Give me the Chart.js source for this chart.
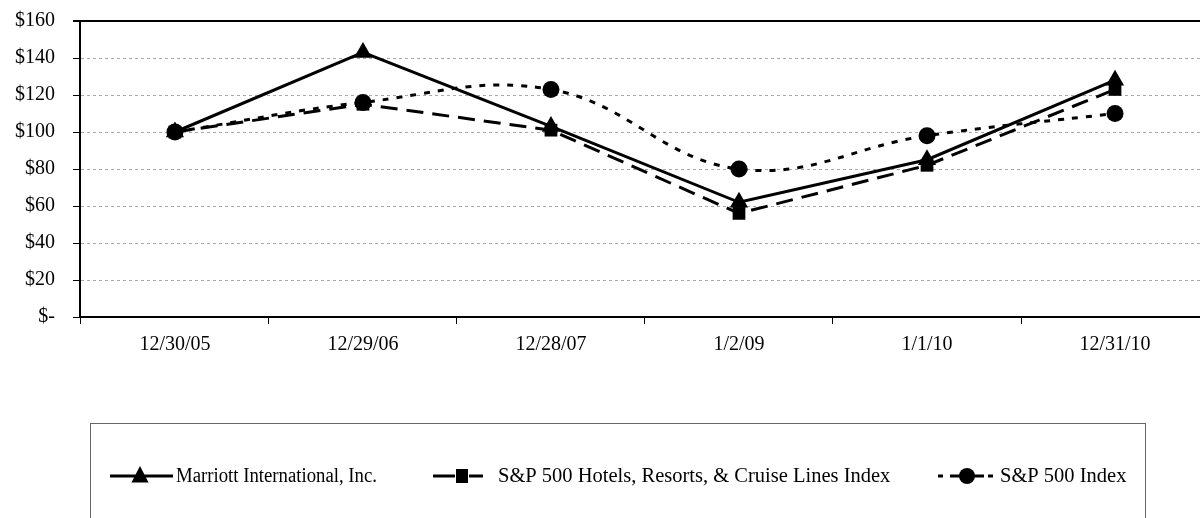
<!DOCTYPE html>
<html><head><meta charset="utf-8">
<script src="https://cdn.jsdelivr.net/npm/chart.js@4/dist/chart.umd.min.js"></script>
<style>html,body{margin:0;padding:0;background:#fff;overflow:hidden}#wrap{width:1200px;height:518px;position:relative}</style>
</head><body><div id="wrap"><canvas id="c" width="1200" height="518"></canvas></div>
<script>
const categories = ['12/30/05','12/29/06','12/28/07','1/2/09','1/1/10','12/31/10'];
const marriott = [100,143,103,62,85,128];
const hotels = [100,115,101,56,82,123];
const sp500 = [100,116,123,80,98,110];
const seriesNames = ['Marriott International, Inc.','S&P 500 Hotels, Resorts, & Cruise Lines Index','S&P 500 Index'];
const FONT = '"Liberation Serif", "Times New Roman", serif';

const toPts = arr => arr.map((v,i)=>({x:i,y:v}));

const legendPlugin = {
  id: 'boxLegend',
  afterDraw(chart){
    const ctx = chart.ctx;
    ctx.save();
    ctx.strokeStyle = '#666'; ctx.lineWidth = 1; ctx.setLineDash([]);
    ctx.strokeRect(90.5, 423.5, 1055, 200);
    const y = 476;
    ctx.fillStyle = '#000'; ctx.strokeStyle = '#000'; ctx.lineWidth = 3;
    // item 1: solid line with triangle
    ctx.beginPath(); ctx.moveTo(110,y); ctx.lineTo(173,y); ctx.stroke();
    ctx.beginPath(); const r=9; ctx.moveTo(140,y-r-1); ctx.lineTo(140+r*0.95,y+r/2+2); ctx.lineTo(140-r*0.95,y+r/2+2); ctx.closePath(); ctx.fill();
    // item 2: dash - square - dash
    ctx.beginPath(); ctx.moveTo(433,y); ctx.lineTo(455,y); ctx.moveTo(469,y); ctx.lineTo(483,y); ctx.stroke();
    ctx.fillRect(456,y-7,12,14);
    // item 3: short dashes around circle
    ctx.beginPath(); ctx.moveTo(938,y); ctx.lineTo(943,y); ctx.moveTo(950,y); ctx.lineTo(984,y); ctx.moveTo(988,y); ctx.lineTo(993,y); ctx.stroke();
    ctx.beginPath(); ctx.arc(967,y,8,0,Math.PI*2); ctx.fill();
    ctx.font = '20.5px ' + FONT; ctx.textBaseline = 'middle'; ctx.textAlign = 'left';
    ctx.fillText(seriesNames[0], 176, y+1, 201);
    ctx.fillText(seriesNames[1], 498, y+1);
    ctx.fillText(seriesNames[2], 1000, y+1);
    ctx.restore();
  }
};

new Chart(document.getElementById('c'), {
  type: 'line',
  data: {
    datasets: [
      {label: seriesNames[0], data: toPts(marriott), borderColor:'#000', backgroundColor:'#000', borderWidth:3, pointStyle:'triangle', pointRadius:10.5, pointBorderWidth:0, tension:0, order:0},
      {label: seriesNames[1], data: toPts(hotels), borderColor:'#000', backgroundColor:'#000', borderWidth:3, borderDash:[17,9], pointStyle:'rect', pointRadius:9, pointBorderWidth:0, tension:0, order:2},
      {label: seriesNames[2], data: toPts(sp500), borderColor:'#000', backgroundColor:'#000', borderWidth:3, borderDash:[6,8], pointStyle:'circle', pointRadius:8.5, pointBorderWidth:0, tension:0.4, order:1}
    ]
  },
  options: {
    responsive:false, animation:false, devicePixelRatio:1,
    layout:{autoPadding:false, padding:{top:21,right:0,bottom:130,left:0}},
    plugins:{legend:{display:false}, tooltip:{enabled:false}},
    scales:{
      x:{
        type:'linear', min:-0.505, max:5.452,
        afterBuildTicks: s => { s.ticks = categories.map((_,i)=>({value:i})); },
        afterFit: s => { s.height = 71; s.paddingLeft = 0; s.paddingRight = 0; },
        ticks:{callback: v => categories[v], color:'#000', font:{family:FONT, size:20}, padding:9, maxRotation:0, autoSkip:false},
        grid:{offset:true, drawOnChartArea:false, drawTicks:true, tickLength:7, tickColor:'#000', color:'#000'},
        border:{color:'#000', width:2}
      },
      y:{
        min:0, max:160,
        afterFit: s => { s.width = 80; s.paddingTop = 0; s.paddingBottom = 0; },
        ticks:{stepSize:20, callback: v => v === 0 ? '$-' : '$' + v, color:'#000', font:{family:FONT, size:20}, padding:18},
        grid:{
          color: c => (c.tick && (c.tick.value === 160 || c.tick.value === 0)) ? '#000' : '#aaa',
          lineWidth: c => (c.tick && c.tick.value === 160) ? 2 : 1,
          tickLength:7, tickColor:'#000'
        },
        border:{color:'#000', width:2, dash: c => (c.tick && c.tick.value !== 160 && c.tick.value !== 0) ? [3,3] : []}
      }
    }
  },
  plugins:[legendPlugin]
});
</script>
</body></html>
